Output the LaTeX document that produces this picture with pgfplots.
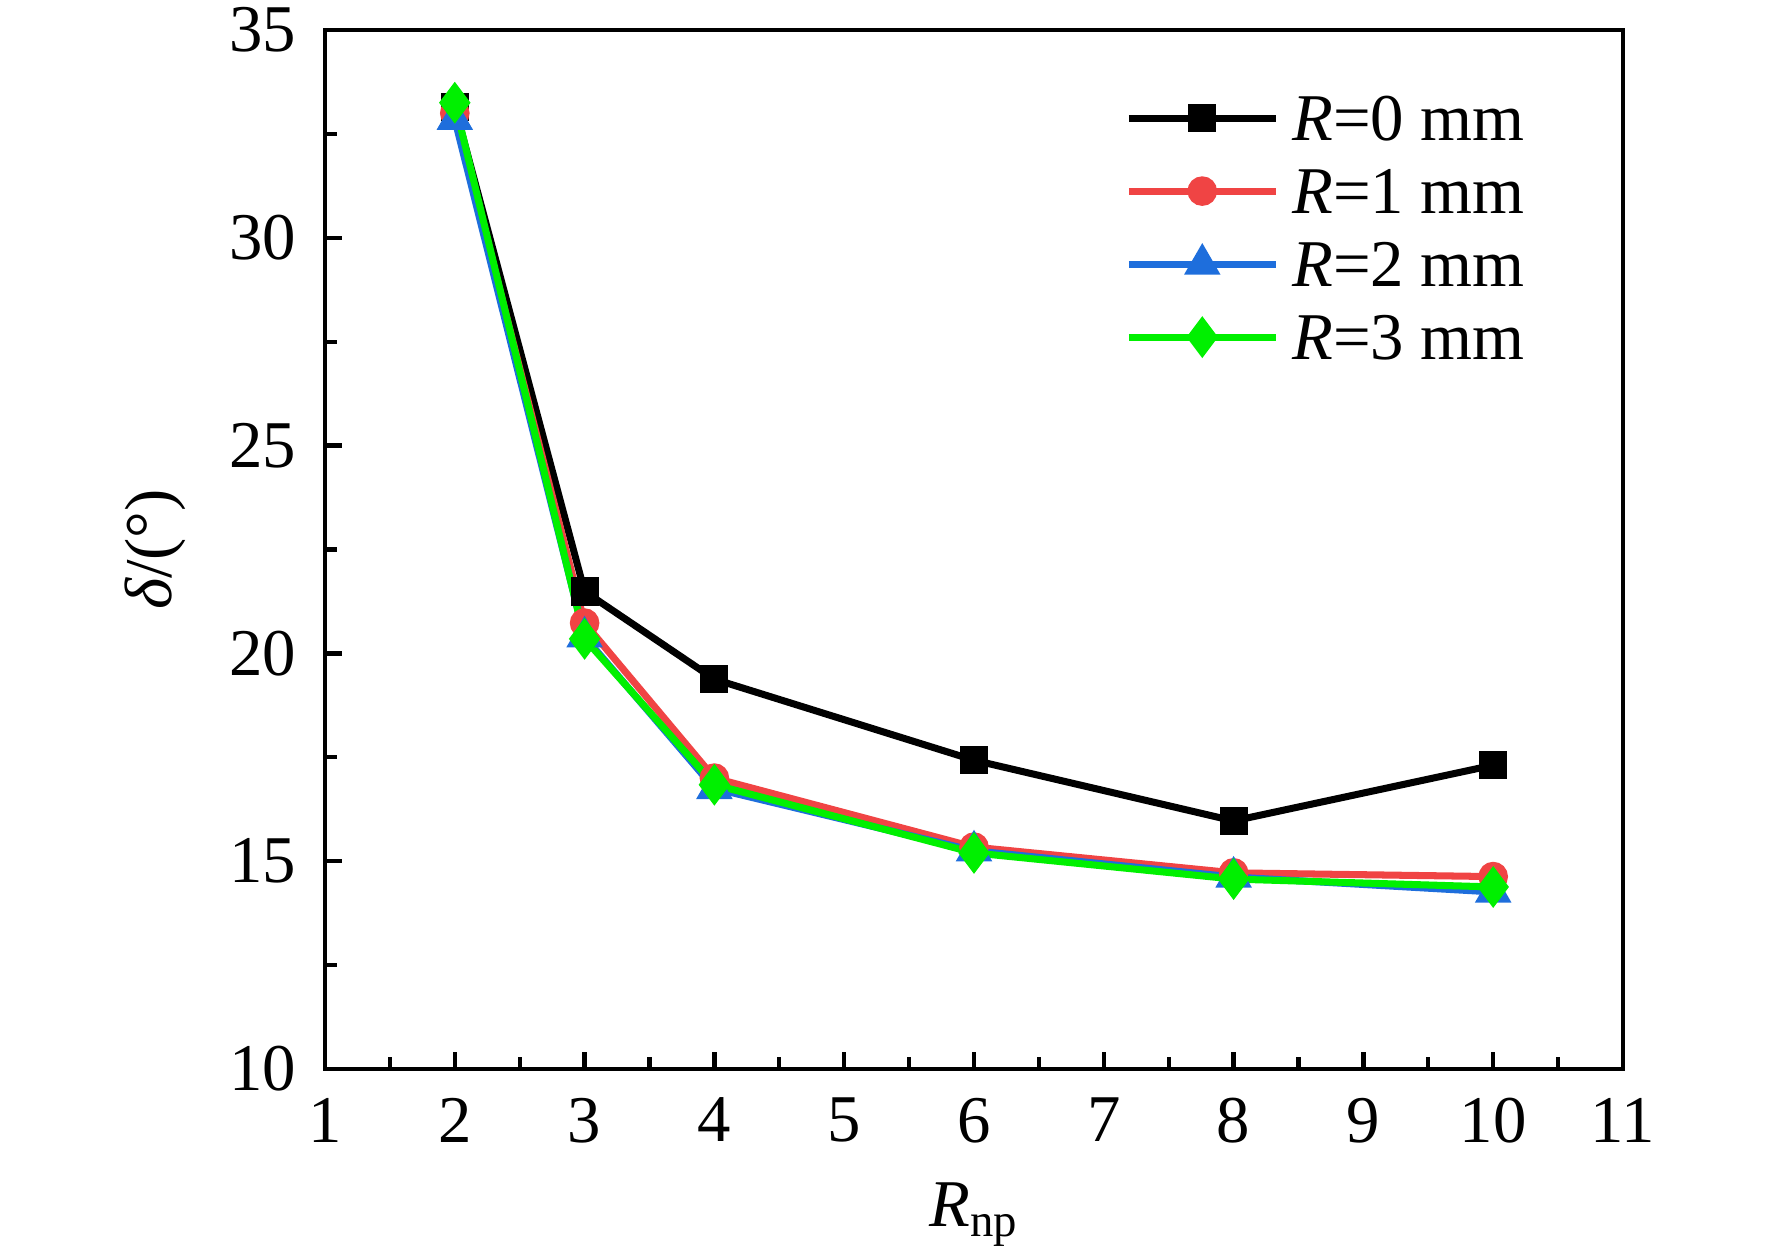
\documentclass[border=0pt]{standalone}
\usepackage{fontspec}
\setmainfont{Liberation Serif}
\usepackage{pgfplots}
\pgfplotsset{compat=1.18}
\definecolor{cred}{RGB}{240,68,68}
\definecolor{cblue}{RGB}{30,110,220}
\definecolor{cgreen}{RGB}{0,240,0}
\begin{document}
\fontsize{19pt}{23pt}\selectfont
\begin{tikzpicture}
\path[use as bounding box] (-32.5mm,-18.6mm) rectangle (144.7mm,106.9mm);
\begin{axis}[
  at={(0,0)}, anchor=south west,
  scale only axis, width=129.8mm, height=103.9mm,
  xmin=1, xmax=11, ymin=10, ymax=35,
  xtick={1,...,11}, ytick={10,15,...,35},
  minor x tick num=1, minor y tick num=1,
  tick align=inside, tick pos=left,
  major tick length=1.7mm, minor tick length=1.2mm,
  axis line style={line width=1.4pt},
  every tick/.style={black, line width=1.2pt},
  /pgf/number format/assume math mode=true,
  xticklabel style={yshift=-0.6mm},
  yticklabel style={xshift=-0.6mm},
  xlabel={{\itshape R}\textsubscript{np}},
  ylabel={{\itshape δ}/(°)},
  xlabel style={at={(rel axis cs:0.5,-0.152)}, anchor=base},
  ylabel style={at={(rel axis cs:-0.131,0.5)}, anchor=center, rotate=0},
  legend style={at={(rel axis cs:0.616,0.951)}, anchor=north west, draw=none, fill=none,
    inner sep=0pt, row sep=0pt, column sep=1.3mm,
    nodes={inner sep=0pt, text height=5.9mm, text depth=1.4mm}},
  legend cell align=left,
  legend image code/.code={\draw[mark repeat=2,mark phase=2,#1] plot coordinates {(0mm,0mm) (7.35mm,0mm) (14.7mm,0mm)};},
  every axis plot/.append style={line width=2pt},
  clip=false,
]
\addplot[black, mark=square*, mark size=3pt, mark options={solid}] coordinates {
  (2,33.15) (3,21.49) (4,19.38) (6,17.43) (8,15.97) (10,17.31)};
\addlegendentry{{\itshape R}=0 mm}
\addplot[cred, mark=*, mark size=3.2pt] coordinates {
  (2,33.0) (3,20.73) (4,17.0) (6,15.34) (8,14.72) (10,14.63)};
\addlegendentry{{\itshape R}=1 mm}
\addplot[cblue, mark=triangle*, mark size=4pt] coordinates {
  (2,32.85) (3,20.4) (4,16.75) (6,15.25) (8,14.62) (10,14.26)};
\addlegendentry{{\itshape R}=2 mm}
\addplot[cgreen, mark=diamond*, mark size=4.3pt] coordinates {
  (2,33.25) (3,20.35) (4,16.84) (6,15.2) (8,14.57) (10,14.38)};
\addlegendentry{{\itshape R}=3 mm}
\end{axis}
\end{tikzpicture}
\end{document}
